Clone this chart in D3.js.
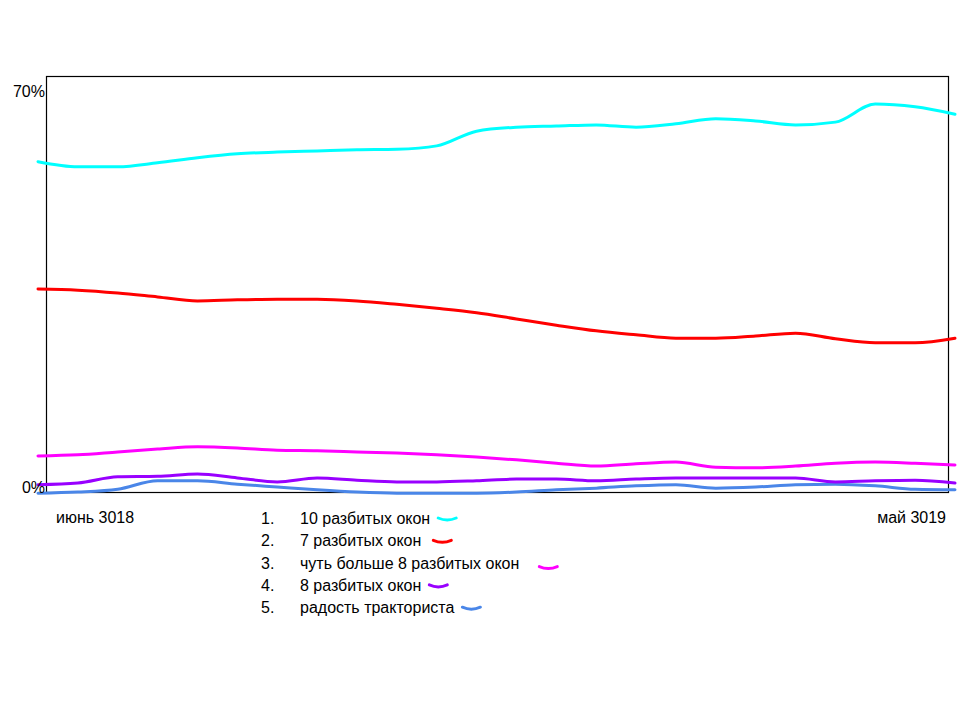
<!DOCTYPE html>
<html><head><meta charset="utf-8">
<script src="https://cdn.jsdelivr.net/npm/d3@7"></script>
<style>body{margin:0;background:#fff}text{font-family:"Liberation Sans",Arial,sans-serif;font-size:16px;fill:#000}</style>
</head><body><svg id="c" width="960" height="720"></svg>
<script>
const seriesNames = ["10 разбитых окон","7 разбитых окон","чуть больше 8 разбитых окон","8 разбитых окон","радость тракториста"];
const seriesColors = ["#00ffff","#ff0000","#ff00ff","#9900ff","#4a86e8"];
const cyanValues = [57.5,56.6,56.6,57.3,58.2,58.9,59.2,59.4,59.6,59.7,60.3,62.9,63.6,63.8,64.0,63.6,64.2,65.1,64.7,64.0,64.5,67.7,67.2,65.9];
const redValues = [35.0,34.8,34.3,33.6,32.9,33.1,33.2,33.2,32.9,32.3,31.6,30.8,29.7,28.6,27.6,26.9,26.3,26.3,26.7,27.2,26.2,25.5,25.5,26.3];
const magentaValues = [5.5,5.7,6.2,6.7,7.1,6.9,6.5,6.4,6.2,6.0,5.7,5.3,4.8,4.2,3.7,4.1,4.4,3.5,3.4,3.7,4.2,4.4,4.2,3.9];
const purpleValues = [0.4,0.7,1.8,1.9,2.3,1.6,0.9,1.6,1.2,0.9,0.9,1.1,1.4,1.4,1.1,1.4,1.6,1.6,1.6,1.6,0.9,1.1,1.2,0.7];
const blueValues = [-1.1,-0.9,-0.4,1.1,1.1,0.5,0,-0.5,-0.9,-1.1,-1.1,-1.1,-0.9,-0.5,-0.2,0.2,0.4,-0.2,0,0.4,0.5,0.2,-0.4,-0.5];
const allSeries = [cyanValues,redValues,magentaValues,purpleValues,blueValues];
const xLabels = ["июнь 3018","май 3019"];
const yTicks = [0,70];

const svg = d3.select("#c");
const x = d3.scaleLinear().domain([0,cyanValues.length-1]).range([38,955]);
const y = d3.scaleLinear().domain([0,70]).range([487,91]);

svg.append("rect").attr("x",46.5).attr("y",76.5).attr("width",902).attr("height",416)
  .attr("fill","none").attr("stroke","#000").attr("stroke-width",1.2);

const line = d3.line().x((d,i)=>x(i)).y(d=>y(d)).curve(d3.curveMonotoneX);
allSeries.slice().reverse().forEach((s,k)=>{
  const idx = allSeries.length-1-k;
  svg.append("path").attr("d",line(s)).attr("fill","none")
    .attr("stroke",seriesColors[idx]).attr("stroke-width",3).attr("stroke-linecap","round");
});

svg.selectAll(".yt").data(yTicks).enter().append("text")
  .attr("x",45).attr("y",d=>y(d)+6).attr("text-anchor","end").text(d=>d+"%");

svg.append("text").attr("x",56).attr("y",523).text(xLabels[0]);
svg.append("text").attr("x",946).attr("y",523).attr("text-anchor","end").text(xLabels[1]);

const lg = svg.append("g");
seriesNames.forEach((n,i)=>{
  const yy = 524 + i*22.3;
  lg.append("text").attr("x",261).attr("y",yy).text((i+1)+".");
  const t = lg.append("text").attr("x",300).attr("y",yy).text(n);
  const w = t.node().getComputedTextLength();
  const sx = 300 + w + 8 + (i===1||i===2?4:0) + (i===2?8:0);
  const sy = yy - 5 + (i===2?4:0);
  lg.append("path").attr("d",`M${sx},${sy-1} Q${sx+9},${sy+3} ${sx+18},${sy-1}`)
    .attr("fill","none").attr("stroke",seriesColors[i]).attr("stroke-width",3).attr("stroke-linecap","round");
});
</script></body></html>
